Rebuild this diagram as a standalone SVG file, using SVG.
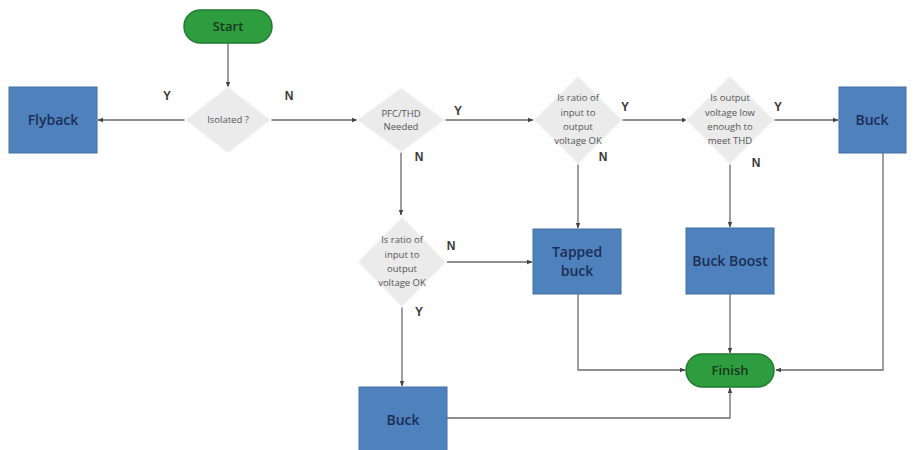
<svg xmlns="http://www.w3.org/2000/svg" width="916" height="450" viewBox="0 0 916 450">
<defs>
<marker id="arr" viewBox="0 0 10 10" refX="9" refY="5" markerWidth="6" markerHeight="6" orient="auto" markerUnits="userSpaceOnUse">
<path d="M0,1 L10,5 L0,9 Z" fill="#444"/>
</marker>
<style>
.box{fill:#4F81BD;stroke:#41709F;stroke-width:1}
.pill{fill:#2E9D3F;stroke:#1F7A2E;stroke-width:1.5}
.dia{fill:#EBEBEB;stroke:#F7F7F7;stroke-width:1.5}
.bt{font-family:"Open Sans","Liberation Sans",sans-serif;font-size:14px;font-weight:600;fill:#1B2E55;text-anchor:middle}
.pt{font-family:"Open Sans","Liberation Sans",sans-serif;font-size:13px;font-weight:600;fill:#17391C;text-anchor:middle}
.dt{font-family:"Open Sans","Liberation Sans",sans-serif;font-size:9.5px;fill:#555;text-anchor:middle}
.lb{font-family:"Liberation Sans",sans-serif;font-size:12px;font-weight:bold;fill:#3a3a3a;text-anchor:middle}
.ln{fill:none;stroke:#6B6B6B;stroke-width:1.3}
</style>
</defs>
<rect width="916" height="450" fill="#fff"/>
<g id="connectors">
<path class="ln" d="M228,43 V87" marker-end="url(#arr)"/>
<path class="ln" d="M185,120 H98" marker-end="url(#arr)"/>
<path class="ln" d="M271,120 H357" marker-end="url(#arr)"/>
<path class="ln" d="M445,120 H533" marker-end="url(#arr)"/>
<path class="ln" d="M622,120 H687" marker-end="url(#arr)"/>
<path class="ln" d="M774,120 H838" marker-end="url(#arr)"/>
<path class="ln" d="M401,152 V215" marker-end="url(#arr)"/>
<path class="ln" d="M578,163 V228" marker-end="url(#arr)"/>
<path class="ln" d="M730,163 V227" marker-end="url(#arr)"/>
<path class="ln" d="M447,262 H532" marker-end="url(#arr)"/>
<path class="ln" d="M402,307 V386" marker-end="url(#arr)"/>
<path class="ln" d="M730,294 V353" marker-end="url(#arr)"/>
<path class="ln" d="M578,294 V370 H685" marker-end="url(#arr)"/>
<path class="ln" d="M883,153 V370 H776" marker-end="url(#arr)"/>
<path class="ln" d="M447,418 H730 V388" marker-end="url(#arr)"/>
</g>
<g id="labels">
<text class="lb" x="167" y="100">Y</text>
<text class="lb" x="289" y="100">N</text>
<text class="lb" x="458" y="115">Y</text>
<text class="lb" x="419" y="161">N</text>
<text class="lb" x="625" y="111">Y</text>
<text class="lb" x="603" y="161">N</text>
<text class="lb" x="778" y="111">Y</text>
<text class="lb" x="756" y="167">N</text>
<text class="lb" x="451" y="250">N</text>
<text class="lb" x="419" y="316">Y</text>
</g>
<g id="start">
<rect class="pill" x="184" y="10" width="88" height="33" rx="16.5"/>
<text class="pt" x="228" y="31">Start</text>
</g>
<g id="isolated">
<polygon class="dia" points="228,87 271,120 228,153 185,120"/>
<text class="dt" x="228" y="123">Isolated ?</text>
</g>
<g id="flyback">
<rect class="box" x="9" y="87" width="88" height="66"/>
<text class="bt" x="53" y="125">Flyback</text>
</g>
<g id="pfc">
<polygon class="dia" points="401,88 445,120 401,152 357,120"/>
<text class="dt" x="401" y="117">PFC/THD</text>
<text class="dt" x="401" y="130">Needed</text>
</g>
<g id="ratio1">
<polygon class="dia" points="578,76 622,120 578,164 534,120"/>
<text class="dt" x="578" y="101">Is ratio of</text>
<text class="dt" x="578" y="116">input  to</text>
<text class="dt" x="578" y="130">output</text>
<text class="dt" x="578" y="144">voltage OK</text>
</g>
<g id="lowvoltage">
<polygon class="dia" points="730,76 774,120 730,164 686,120"/>
<text class="dt" x="730" y="101">Is output</text>
<text class="dt" x="730" y="116">voltage low</text>
<text class="dt" x="730" y="130">enough to</text>
<text class="dt" x="730" y="144">meet THD</text>
</g>
<g id="buck-top">
<rect class="box" x="839" y="87" width="67" height="66"/>
<text class="bt" x="872" y="125">Buck</text>
</g>
<g id="ratio2">
<polygon class="dia" points="402,217 446,262 402,307 358,262"/>
<text class="dt" x="402" y="243">Is ratio of</text>
<text class="dt" x="402" y="258">input to</text>
<text class="dt" x="402" y="272">output</text>
<text class="dt" x="402" y="286">voltage OK</text>
</g>
<g id="tapped-buck">
<rect class="box" x="533" y="229" width="88" height="65"/>
<text class="bt" x="577" y="257">Tapped</text>
<text class="bt" x="577" y="276">buck</text>
</g>
<g id="buck-boost">
<rect class="box" x="686" y="228" width="88" height="66"/>
<text class="bt" x="730" y="266">Buck Boost</text>
</g>
<g id="finish">
<rect class="pill" x="686" y="354" width="88" height="33" rx="16.5"/>
<text class="pt" x="730" y="375">Finish</text>
</g>
<g id="buck-bottom">
<rect class="box" x="359" y="387" width="88" height="66"/>
<text class="bt" x="403" y="425">Buck</text>
</g>
</svg>
